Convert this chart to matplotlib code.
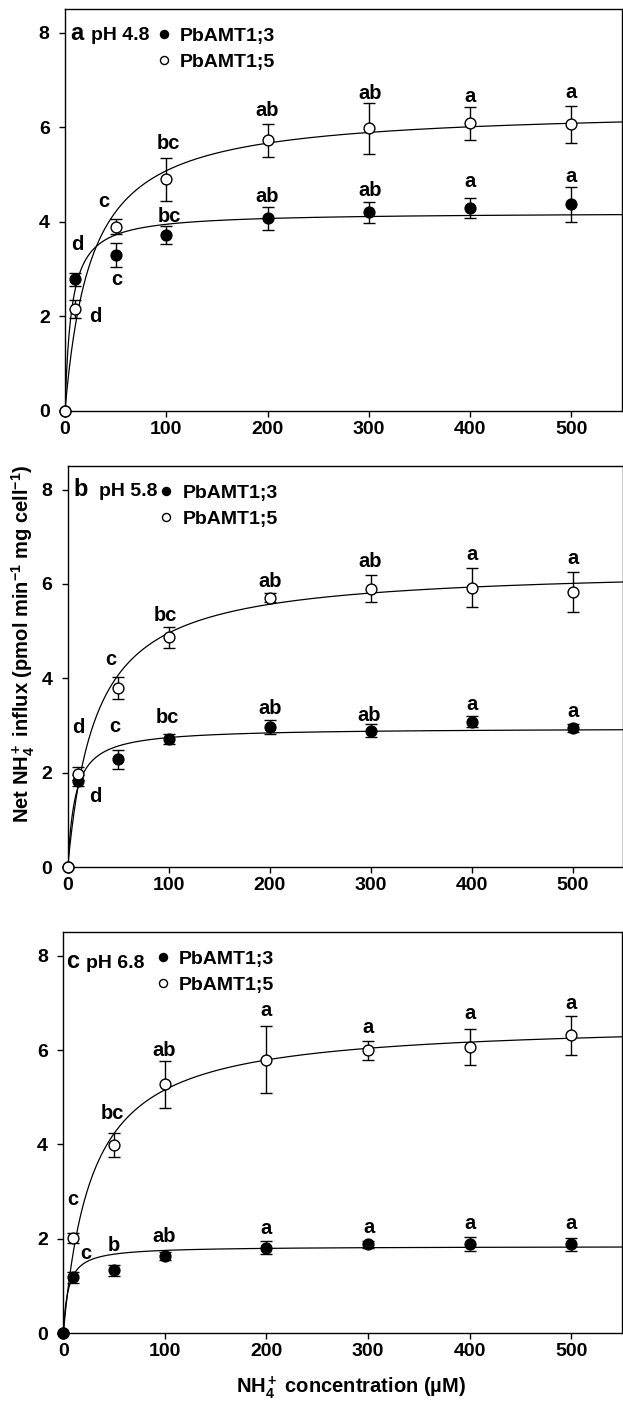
import numpy as np
import matplotlib
matplotlib.use("Agg")
import matplotlib.pyplot as plt
from matplotlib.lines import Line2D

plt.rcParams['font.family'] = ['Liberation Sans', 'DejaVu Sans']
plt.rcParams['font.weight'] = 'bold'
plt.rcParams['mathtext.fontset'] = 'custom'
plt.rcParams['mathtext.rm'] = 'Liberation Sans:bold'
plt.rcParams['mathtext.bf'] = 'Liberation Sans:bold'
plt.rcParams['mathtext.it'] = 'Liberation Sans:bold:italic'
plt.rcParams['mathtext.default'] = 'rm'

# ---------------- data ----------------
conc = [0, 10, 50, 100, 200, 300, 400, 500]
series_names = ['PbAMT1;3', 'PbAMT1;5']

# panel a, pH 4.8
a_amt13 = [0, 2.78, 3.30, 3.72, 4.07, 4.20, 4.29, 4.37]
a_amt13_err = [0, 0.13, 0.25, 0.20, 0.25, 0.22, 0.22, 0.37]
a_amt15 = [0, 2.16, 3.90, 4.90, 5.72, 5.98, 6.08, 6.06]
a_amt15_err = [0, 0.19, 0.16, 0.45, 0.34, 0.54, 0.35, 0.39]
a_sig13 = ['', 'd', 'c', 'bc', 'ab', 'ab', 'a', 'a']
a_sig15 = ['', 'd', 'c', 'bc', 'ab', 'ab', 'a', 'a']
a_fit13 = (4.2, 6.4)    # Vmax, Km
a_fit15 = (6.4, 26.0)

# panel b, pH 5.8
b_amt13 = [0, 1.83, 2.28, 2.71, 2.97, 2.89, 3.08, 2.95]
b_amt13_err = [0, 0.12, 0.20, 0.11, 0.15, 0.14, 0.12, 0.08]
b_amt15 = [0, 1.98, 3.80, 4.87, 5.71, 5.90, 5.92, 5.83]
b_amt15_err = [0, 0.13, 0.23, 0.22, 0.10, 0.28, 0.41, 0.42]
b_sig13 = ['', 'd', 'c', 'bc', 'ab', 'ab', 'a', 'a']
b_sig15 = ['', 'd', 'c', 'bc', 'ab', 'ab', 'a', 'a']
b_fit13 = (2.95, 7.5)
b_fit15 = (6.35, 28.0)

# panel c, pH 6.8
c_amt13 = [0, 1.18, 1.33, 1.63, 1.81, 1.88, 1.88, 1.88]
c_amt13_err = [0, 0.11, 0.11, 0.08, 0.14, 0.07, 0.15, 0.14]
c_amt15 = [0, 2.02, 3.99, 5.27, 5.79, 5.99, 6.07, 6.31]
c_amt15_err = [0, 0.11, 0.26, 0.50, 0.71, 0.20, 0.38, 0.41]
c_sig13 = ['', 'c', 'b', 'ab', 'a', 'a', 'a', 'a']
c_sig15 = ['', 'c', 'bc', 'ab', 'a', 'a', 'a', 'a']
c_fit13 = (1.84, 5.0)
c_fit15 = (6.6, 28.0)

x_ticks = [0, 100, 200, 300, 400, 500]
y_ticks = [0, 2, 4, 6, 8]

# ---------------- layout / style ----------------
# letter offsets from marker centre, in pixels (right, up)
a_off13 = [None, (2, 37), (1, -25), (3, 20), (0, 24), (1, 24), (0, 26), (0, 28)]
a_off15 = [None, (20, -6), (-12, 25), (2, 37), (0, 32), (1, 36), (0, 27), (0, 32)]
b_off13 = [None, (17, -14), (-3, 33), (-1, 23), (0, 20), (-1, 17), (0, 17), (0, 16)]
b_off15 = [None, (0, 48), (-7, 28), (-3, 24), (0, 18), (0, 29), (0, 33), (0, 33)]
c_off13 = [None, (12, 24), (0, 27), (-1, 21), (0, 19), (1, 17), (0, 21), (0, 21)]
c_off15 = [None, (-1, 38), (-2, 33), (-1, 36), (0, 49), (0, 23), (0, 33), (0, 32)]

panels = [
    dict(rect=[0.1043, 0.7075, 0.894, 0.2861], letter='a', ph='pH 4.8',
         letter_xy=(5.3, 7.85), ph_x=25.5,
         s13=(a_amt13, a_amt13_err, a_sig13, a_fit13, a_off13),
         s15=(a_amt15, a_amt15_err, a_sig15, a_fit15, a_off15), open_on_top=True),
    dict(rect=[0.1087, 0.3829, 0.8913, 0.2854], letter='b', ph='pH 5.8',
         letter_xy=(5.8, 7.87), ph_x=30.5,
         s13=(b_amt13, b_amt13_err, b_sig13, b_fit13, b_off13),
         s15=(b_amt15, b_amt15_err, b_sig15, b_fit15, b_off15), open_on_top=True),
    dict(rect=[0.1016, 0.0512, 0.8968, 0.2854], letter='c', ph='pH 6.8',
         letter_xy=(3.0, 7.74), ph_x=22.0,
         s13=(c_amt13, c_amt13_err, c_sig13, c_fit13, c_off13),
         s15=(c_amt15, c_amt15_err, c_sig15, c_fit15, c_off15), open_on_top=False),
]

DPI = 100
fig = plt.figure(figsize=(6.23, 14.05), dpi=DPI)
SIG_FS = 14.5
SIG_PX = SIG_FS * DPI / 72.0
TXT_FS = 14

S = np.linspace(0, 550, 800)

def draw_series(ax, vals, errs, sig, fit, offs, filled, z):
    fc = 'black' if filled else 'white'
    vmax, km = fit
    ax.plot(S, vmax * S / (km + S), color='black', lw=0.9, zorder=2)
    ax.errorbar(conc, vals, yerr=errs, errorevery=(1, 1), fmt='o', ms=7.8,
                mfc=fc, mec='black', mew=1.0, ecolor='black', elinewidth=1.0,
                capsize=4.6, capthick=1.0, clip_on=False, zorder=z)
    for xv, yv, s, off in zip(conc, vals, sig, offs):
        if not s:
            continue
        dx, dy = off
        asc = any(ch in 'bdh' for ch in s)
        base = dy - (0.36 if asc else 0.26) * SIG_PX
        ax.annotate(s, (xv, yv), xytext=(dx, base), textcoords='offset pixels',
                    ha='center', va='baseline', fontsize=SIG_FS, fontweight='bold',
                    zorder=6)

for p in panels:
    ax = fig.add_axes(p['rect'])
    ax.set_xlim(0, 550)
    ax.set_ylim(0, 8.5)
    z13, z15 = (3, 4) if p['open_on_top'] else (4, 3)
    draw_series(ax, *p['s13'], filled=True, z=z13)
    draw_series(ax, *p['s15'], filled=False, z=z15)
    ax.set_xticks(x_ticks)
    ax.set_yticks(y_ticks)
    ax.tick_params(axis='both', direction='out', length=4, width=1,
                   labelsize=TXT_FS, top=False, right=False)
    ax.tick_params(axis='y', pad=7)
    ax.tick_params(axis='x', pad=3)
    for lab in ax.get_xticklabels() + ax.get_yticklabels():
        lab.set_fontweight('bold')
    for sp in ax.spines.values():
        sp.set_linewidth(1.0)
    lx, ly = p['letter_xy']
    ax.text(lx, ly, p['letter'], fontsize=17, fontweight='bold', va='baseline', ha='left')
    ax.text(p['ph_x'], ly, p['ph'], fontsize=TXT_FS, fontweight='bold', va='baseline', ha='left')
    handles = [Line2D([], [], ls='none', marker='o', ms=5.8, mfc='black', mec='black', mew=1.0),
               Line2D([], [], ls='none', marker='o', ms=5.8, mfc='white', mec='black', mew=1.0)]
    ax.legend(handles, series_names, loc='upper left', bbox_to_anchor=(0.1637, 0.955),
              frameon=False, handlelength=0.8, handletextpad=0.42, borderpad=0,
              borderaxespad=0, labelspacing=0.44,
              prop={'size': TXT_FS, 'weight': 'bold'})

fig.text(23 / 623, 1 - 643.5 / 1405,
         r'Net NH$_4^+$ influx (pmol min$^{-1}$ mg cell$^{-1}$)',
         rotation=90, ha='center', va='center', fontsize=14.5, fontweight='bold')
fig.text(351.5 / 623, 1 - 1388 / 1405, r'NH$_4^+$ concentration (µM)',
         ha='center', va='center', fontsize=14.5, fontweight='bold')

fig.savefig('out.png', dpi=DPI)
